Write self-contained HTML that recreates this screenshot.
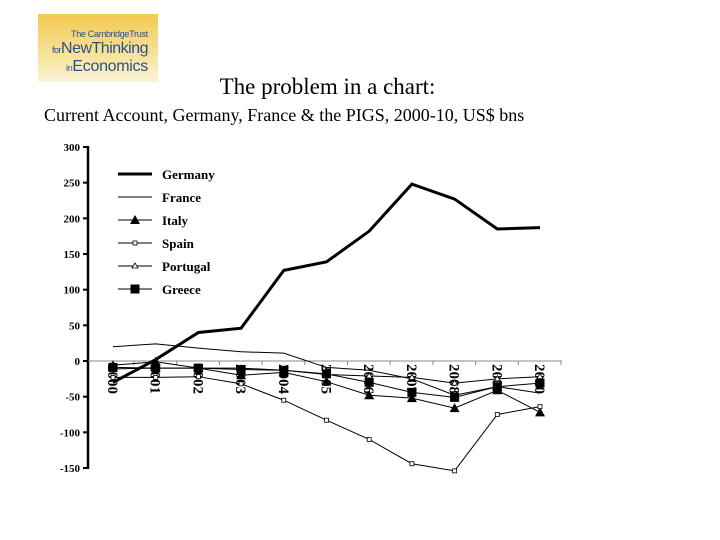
<!DOCTYPE html>
<html><head><meta charset="utf-8"><style>
body{margin:0;width:720px;height:540px;background:#fff;overflow:hidden;position:relative;font-family:"Liberation Serif",serif}
#logo{position:absolute;left:38px;top:14px;width:120px;height:68px;background:linear-gradient(#f3c94f,#f8e7a8 70%,#fbf3d8);font-family:"Liberation Sans",sans-serif;color:#2a4f8c}
#logo div{white-space:nowrap}
#title{position:absolute;left:0;width:655px;text-align:center;top:74px;font-size:23px}
#sub{position:absolute;left:44px;top:105px;font-size:18px}
</style></head><body>
<div id="logo">
<div style="position:absolute;left:33px;top:15px;font-size:9px;letter-spacing:-0.3px">The CambridgeTrust</div>
<div style="position:absolute;left:14px;top:26px;font-size:16px;letter-spacing:-0.5px"><span style="font-size:9px">for</span>NewThinking</div>
<div style="position:absolute;left:28px;top:44px;font-size:16px;letter-spacing:-0.3px"><span style="font-size:9px">in</span>Economics</div>
</div>
<div id="title">The problem in a chart:</div>
<div id="sub">Current Account, Germany, France &amp; the PIGS, 2000-10, US$ bns</div>
<svg id="c" width="720" height="540" style="position:absolute;left:0;top:0"></svg>
<script>
const years=["2000","2001","2002","2003","2004","2005","2006","2007","2008","2009","2010"];
const germany=[-30,2,40,46,127,139,182,248,227,185,187];
const france=[20,24,18,13,11,-9,-13,-25,-48,-36,-45];
const italy=[-6,-1,-10,-20,-16,-29,-48,-52,-66,-41,-72];
const spain=[-23,-23,-22,-32,-55,-83,-110,-144,-154,-75,-64];
const portugal=[-11,-10,-10,-10,-13,-19,-21,-23,-31,-25,-22];
const greece=[-9,-10,-10,-12,-13,-18,-30,-44,-51,-36,-31];
const yTicks=[300,250,200,150,100,50,0,-50,-100,-150];
const names=["Germany","France","Italy","Spain","Portugal","Greece"];
const NS="http://www.w3.org/2000/svg";
const svg=document.getElementById('c');
const y=v=>361-v*0.7133;
const x=i=>113+i*42.7;
function mk(t,a,p){const e=document.createElementNS(NS,t);for(const k in a)e.setAttribute(k,a[k]);(p||svg).appendChild(e);return e;}
let ax=mk('line',{x1:88,y1:146,x2:88,y2:469,stroke:'#000','stroke-width':2.5});


let xa=mk('line',{x1:88,y1:361,x2:562,y2:361,stroke:'#888','stroke-width':1});


yTicks.forEach(v=>{
 mk('line',{x1:83,y1:y(v),x2:88,y2:y(v),stroke:'#000','stroke-width':2});
 const t=mk('text',{x:80,y:y(v)+4,'text-anchor':'end','font-size':11,'font-weight':'bold','font-family':'Liberation Serif, serif'});
 t.textContent=v;
 
 
});
years.forEach((yr,i)=>{
 mk('line',{x1:x(i)+21,y1:361,x2:x(i)+21,y2:365,stroke:'#888'});
 const t=mk('text',{x:0,y:0,transform:`translate(${x(i)-5},${364}) rotate(90)`,'font-size':15,'font-weight':'bold','font-family':'Liberation Serif, serif'});
 t.textContent=yr;
 
 
});
const series=[[germany,3,'none'],[france,1,'none'],[italy,1,'tri'],[spain,1,'sq'],[portugal,1,'otri'],[greece,1,'bsq']];
function marker(kind,cx,cy,g){
 if(kind=='tri')mk('polygon',{points:`${cx},${cy-5} ${cx-5},${cy+4} ${cx+5},${cy+4}`,fill:'#000'},g);
 if(kind=='otri')mk('polygon',{points:`${cx},${cy-3} ${cx-3},${cy+2} ${cx+3},${cy+2}`,fill:'#fff',stroke:'#000','stroke-width':0.8},g);
 if(kind=='sq')mk('rect',{x:cx-2,y:cy-2,width:4,height:4,fill:'#fff',stroke:'#000','stroke-width':0.8},g);
 if(kind=='bsq')mk('rect',{x:cx-4.5,y:cy-4.5,width:9,height:9,fill:'#000'},g);
}
series.forEach((s,k)=>{
 const g=mk('g',{});
 
 
 mk('polyline',{points:s[0].map((v,i)=>x(i)+','+y(v)).join(' '),fill:'none',stroke:'#000','stroke-width':s[1]},g);
 s[0].forEach((v,i)=>marker(s[2],x(i),y(v),g));
 const ly=174+k*23;
 const lg=mk('g',{});
 
 
 mk('line',{x1:118,y1:ly,x2:152,y2:ly,stroke:'#000','stroke-width':s[1]},lg);
 marker(s[2],135,ly,lg);
 const t=mk('text',{x:162,y:ly+5,'font-size':13,'font-weight':'bold','font-family':'Liberation Serif, serif'},lg);
 t.textContent=names[k];
});
</script>
</body></html>
